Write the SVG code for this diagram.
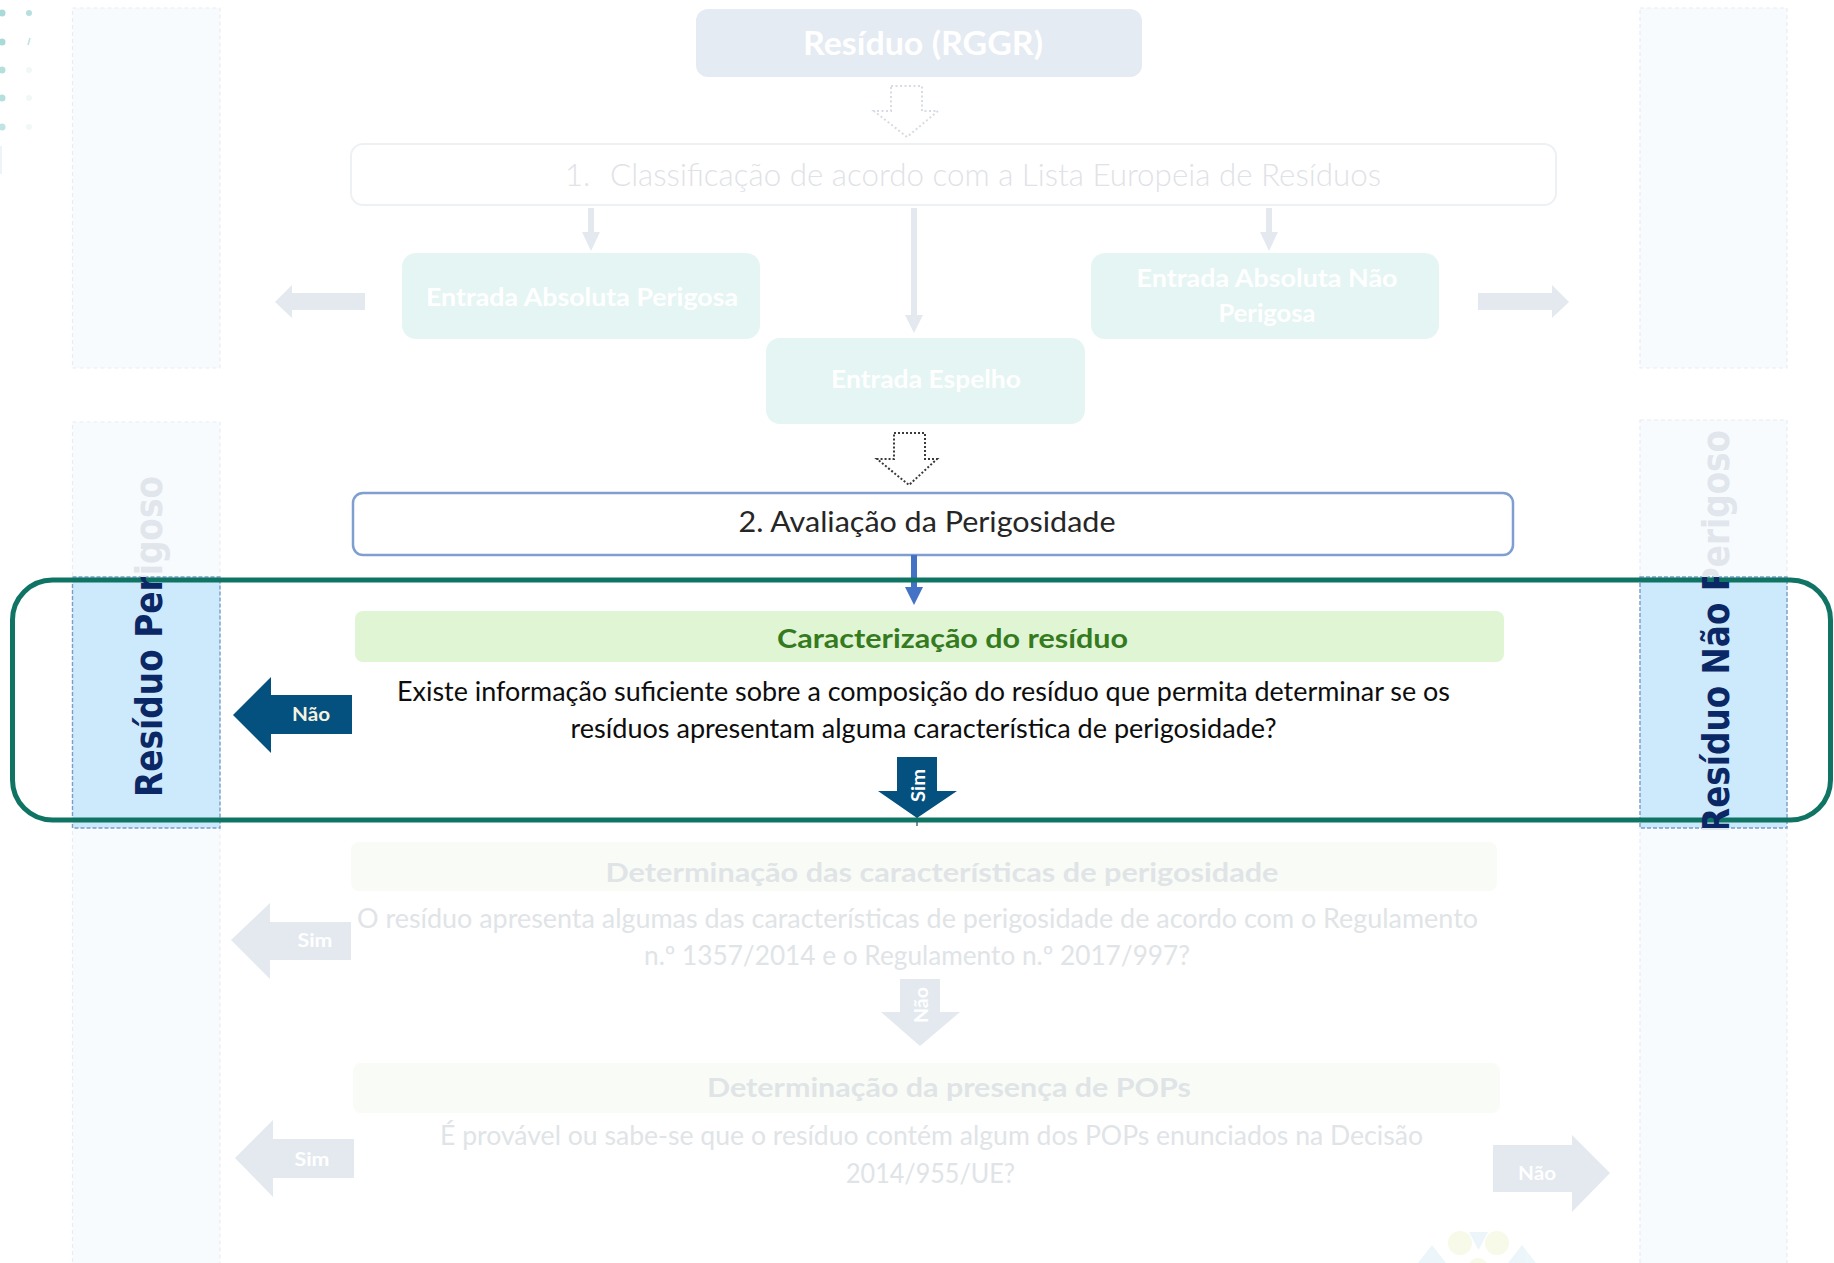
<svg xmlns="http://www.w3.org/2000/svg" width="1834" height="1263" viewBox="0 0 1834 1263">
  <style>
    .sans{font-family:Lato,"Liberation Sans",sans-serif}
    .bold{font-weight:700}
    .light{font-weight:300}
    .col-label{font-family:"DejaVu Sans",Verdana,sans-serif;font-weight:700;font-size:38px}
    .faded-box{fill:#e5f5f3}
    .faded-arrow{fill:#e3e9ef}
    .faded-text{fill:#e0e4e7}
    .dark-arrow{fill:#04507e}
    .col-faint{fill:#f8fbfe;stroke:#e7edf4;stroke-width:1.2;stroke-dasharray:4 3}
    .col-lit{fill:#cdeafd;stroke:#7b9dc7;stroke-width:1.4;stroke-dasharray:4 2}
  </style>
  <defs>
    <clipPath id="band">
      <rect x="0" y="577" width="1834" height="251"/>
    </clipPath>
  </defs>

  <rect width="1834" height="1263" fill="#ffffff"/>

  <!-- decorative dots, top-left corner -->
  <g id="corner-dots">
    <circle cx="2" cy="13" r="3.5" fill="#a9dad7"/>
    <circle cx="2" cy="42" r="3.5" fill="#a9dad7"/>
    <circle cx="2" cy="70" r="3.5" fill="#b4dfdc"/>
    <circle cx="2" cy="98" r="3.5" fill="#b4dfdc"/>
    <circle cx="2" cy="127" r="3.5" fill="#bfe4e1"/>
    <circle cx="29" cy="13" r="3" fill="#b7e0dd"/>
    <path d="M30 38 L28 45" stroke="#bfe4e1" stroke-width="1.6"/>
    <circle cx="29" cy="70" r="3" fill="#f1f8f8"/>
    <circle cx="29" cy="98" r="3" fill="#f1f8f8"/>
    <circle cx="29" cy="127" r="3" fill="#f1f8f8"/>
    <rect x="0" y="146" width="2" height="28" fill="#eef4f6"/>
  </g>

  <!-- left column: Resíduo Perigoso -->
  <g id="col-perigoso">
    <rect class="col-faint" x="72.5" y="8" width="147.5" height="360"/>
    <rect class="col-faint" x="72.5" y="422" width="147.5" height="850"/>
    <rect class="col-lit" x="72.5" y="577" width="147.5" height="251"/>
    <text class="col-label" fill="#e1e5ec" transform="translate(162,797) rotate(-90)" textLength="321" lengthAdjust="spacingAndGlyphs">Resíduo Perigoso</text>
  </g>

  <!-- right column: Resíduo Não Perigoso -->
  <g id="col-nao-perigoso">
    <rect class="col-faint" x="1640" y="8" width="147" height="360"/>
    <rect class="col-faint" x="1640" y="420" width="147" height="852"/>
    <rect class="col-lit" x="1640" y="577" width="147" height="251"/>
    <text class="col-label" fill="#e1e5ec" transform="translate(1729,833) rotate(-90)" textLength="403" lengthAdjust="spacingAndGlyphs">Resíduo Não Perigoso</text>
  </g>

  <!-- nodes -->
  <g id="node-rggr">
    <rect x="696" y="9" width="446" height="68" rx="12" fill="#e5ebf2"/>
    <text class="sans bold" x="923" y="55" font-size="33" fill="#ffffff" text-anchor="middle" textLength="240" lengthAdjust="spacingAndGlyphs">Resíduo (RGGR)</text>
  </g>

  <g id="node-classificacao">
    <rect x="351" y="144" width="1205" height="61" rx="12" fill="#ffffff" stroke="#eef1f4" stroke-width="2"/>
    <text class="sans light" x="565" y="186" font-size="31" fill="#dfe2e7">1.</text>
    <text class="sans light" x="610" y="186" font-size="31" fill="#dfe2e7" textLength="771" lengthAdjust="spacingAndGlyphs">Classificação de acordo com a Lista Europeia de Resíduos</text>
  </g>

  <g id="node-absoluta-perigosa">
    <rect class="faded-box" x="402" y="253" width="358" height="86" rx="14"/>
    <text class="sans bold" x="582" y="306" font-size="25" fill="#ffffff" text-anchor="middle" textLength="312" lengthAdjust="spacingAndGlyphs">Entrada Absoluta Perigosa</text>
  </g>

  <g id="node-absoluta-nao-perigosa">
    <rect class="faded-box" x="1091" y="253" width="348" height="86" rx="14"/>
    <text class="sans bold" x="1267" y="287" font-size="25" fill="#ffffff" text-anchor="middle" textLength="261" lengthAdjust="spacingAndGlyphs">Entrada Absoluta Não</text>
    <text class="sans bold" x="1267" y="322" font-size="25" fill="#ffffff" text-anchor="middle" textLength="97" lengthAdjust="spacingAndGlyphs">Perigosa</text>
  </g>

  <g id="node-espelho">
    <rect class="faded-box" x="766" y="338" width="319" height="86" rx="14"/>
    <text class="sans bold" x="926" y="388" font-size="25" fill="#ffffff" text-anchor="middle" textLength="190" lengthAdjust="spacingAndGlyphs">Entrada Espelho</text>
  </g>

  <g id="node-avaliacao">
    <rect x="353" y="493" width="1160" height="62" rx="10" fill="#ffffff" stroke="#7e9fd0" stroke-width="2.5"/>
    <text class="sans" x="927" y="532" font-size="29" fill="#262626" text-anchor="middle" textLength="377" lengthAdjust="spacingAndGlyphs">2. Avaliação da Perigosidade</text>
  </g>

  <g id="node-caracterizacao">
    <rect x="355" y="611" width="1149" height="51" rx="8" fill="#dff5d3"/>
    <text class="sans bold" x="952.5" y="648" font-size="27" fill="#357a1f" text-anchor="middle" textLength="351" lengthAdjust="spacingAndGlyphs">Caracterização do resíduo</text>
    <text class="sans" x="923.5" y="701" font-size="26" fill="#0d0d0d" text-anchor="middle" textLength="1053" lengthAdjust="spacingAndGlyphs">Existe informação suficiente sobre a composição do resíduo que permita determinar se os</text>
    <text class="sans" x="923.5" y="738" font-size="26" fill="#0d0d0d" text-anchor="middle" textLength="706" lengthAdjust="spacingAndGlyphs">resíduos apresentam alguma característica de perigosidade?</text>
  </g>

  <g id="node-caracteristicas">
    <rect x="351" y="842" width="1146" height="49" rx="8" fill="#f9fcf6"/>
    <text class="sans bold faded-text" x="942" y="882" font-size="27" text-anchor="middle" textLength="673" lengthAdjust="spacingAndGlyphs">Determinação das características de perigosidade</text>
    <text class="sans faded-text" x="917.5" y="928" font-size="26" text-anchor="middle" textLength="1121" lengthAdjust="spacingAndGlyphs">O resíduo apresenta algumas das características de perigosidade de acordo com o Regulamento</text>
    <text class="sans faded-text" x="917" y="965" font-size="26" text-anchor="middle" textLength="546" lengthAdjust="spacingAndGlyphs">n.º 1357/2014 e o Regulamento n.º 2017/997?</text>
  </g>

  <g id="node-pops">
    <rect x="353" y="1063" width="1147" height="50" rx="8" fill="#f9fcf6"/>
    <text class="sans bold faded-text" x="949" y="1097" font-size="27" text-anchor="middle" textLength="484" lengthAdjust="spacingAndGlyphs">Determinação da presença de POPs</text>
    <text class="sans faded-text" x="931.5" y="1145" font-size="26" text-anchor="middle" textLength="983" lengthAdjust="spacingAndGlyphs">É provável ou sabe-se que o resíduo contém algum dos POPs enunciados na Decisão</text>
    <text class="sans faded-text" x="930.5" y="1183" font-size="26" text-anchor="middle" textLength="169" lengthAdjust="spacingAndGlyphs">2014/955/UE?</text>
  </g>

  <!-- logo mark, bottom right -->
  <g id="logo" opacity="0.45">
    <circle cx="1460" cy="1243" r="12" fill="#eef3cf"/>
    <circle cx="1497" cy="1243" r="12" fill="#eef3cf"/>
    <polygon points="1469,1232 1488,1232 1478.5,1250" fill="#d6eaf5"/>
    <polygon points="1418,1263 1432,1245 1446,1263" fill="#d6eaf5"/>
    <polygon points="1508,1263 1522,1245 1536,1263" fill="#d6eaf5"/>
    <circle cx="1478" cy="1268" r="10" fill="#eef3cf"/>
  </g>

  <!-- connectors -->
  <g id="connectors">
    <!-- RGGR to classification, dotted block arrow -->
    <path d="M891 86 H922 V111 H938 L907 137 L874 111 H891 Z" fill="none" stroke="#d6dce4" stroke-width="2" stroke-dasharray="2 2.5"/>
    <!-- classification to the three entries -->
    <polygon class="faded-arrow" points="588,208 594,208 594,232 600,232 591,251 582,232 588,232"/>
    <polygon class="faded-arrow" points="911,208 917,208 917,315 923,315 914,333 905,315 911,315"/>
    <polygon class="faded-arrow" points="1266,208 1272,208 1272,232 1278,232 1269,251 1260,232 1266,232"/>
    <!-- side arrows from the absolute entries -->
    <polygon class="faded-arrow" points="275,302 292,285 292,293 365,293 365,310 292,310 292,318"/>
    <polygon class="faded-arrow" points="1478,293 1552,293 1552,285 1569,302 1552,318 1552,310 1478,310"/>
    <!-- Entrada Espelho to avaliação, dotted block arrow -->
    <path d="M894 433 H925 V459 H937 L909 485 L877 459 H894 Z" fill="none" stroke="#3a3a3a" stroke-width="2" stroke-dasharray="2 2"/>
    <!-- avaliação to caracterização -->
    <polygon points="911,555 917,555 917,587 923,587 914,605 905,587 911,587" fill="#4472c4"/>

    <!-- caracterização: Não to the left, Sim down -->
    <polygon class="dark-arrow" points="233,715 271,677 271,695 352,695 352,734 271,734 271,753"/>
    <text class="sans bold" x="311" y="721" font-size="19" fill="#f5f3e0" text-anchor="middle" textLength="38" lengthAdjust="spacingAndGlyphs">Não</text>
    <line x1="917" y1="815" x2="917" y2="826" stroke="#2a3f55" stroke-width="1.2"/>
    <polygon class="dark-arrow" points="897,757 937,757 937,791 957,791 917,818 878,791 897,791"/>
    <text class="sans bold" transform="translate(925,802) rotate(-90)" font-size="19" fill="#ffffff" textLength="33" lengthAdjust="spacingAndGlyphs">Sim</text>

    <!-- características: Sim to the left, Não down -->
    <polygon class="faded-arrow" points="231,940 270,903 270,922 351,922 351,960 270,960 270,979"/>
    <text class="sans bold" x="315" y="947" font-size="19" fill="#ffffff" text-anchor="middle" textLength="35" lengthAdjust="spacingAndGlyphs">Sim</text>
    <polygon class="faded-arrow" points="900,979 940,979 940,1012 960,1012 920,1046 881,1012 900,1012"/>
    <text class="sans bold" transform="translate(928,1023) rotate(-90)" font-size="19" fill="#ffffff" textLength="36" lengthAdjust="spacingAndGlyphs">Não</text>

    <!-- POPs: Sim to the left, Não to the right -->
    <polygon class="faded-arrow" points="235,1158 273,1120 273,1139 354,1139 354,1178 273,1178 273,1197"/>
    <text class="sans bold" x="312" y="1166" font-size="19" fill="#ffffff" text-anchor="middle" textLength="35" lengthAdjust="spacingAndGlyphs">Sim</text>
    <polygon class="faded-arrow" points="1493,1145 1572,1145 1572,1135 1610,1173 1572,1212 1572,1192 1493,1192"/>
    <text class="sans bold" x="1537" y="1180" font-size="19" fill="#ffffff" text-anchor="middle" textLength="38" lengthAdjust="spacingAndGlyphs">Não</text>
  </g>

  <!-- focus frame around the caracterização step -->
  <g id="focus-frame">
    <rect x="12.5" y="580" width="1818" height="240" rx="40" fill="none" stroke="#0f7464" stroke-width="5"/>
  </g>
  <!-- column labels inside the lit band, drawn above the frame line -->
  <g id="col-labels-lit" clip-path="url(#band)">
    <text class="col-label" fill="#0a2766" transform="translate(162,797) rotate(-90)" textLength="321" lengthAdjust="spacingAndGlyphs">Resíduo Perigoso</text>
    <text class="col-label" fill="#0a2766" transform="translate(1729,833) rotate(-90)" textLength="403" lengthAdjust="spacingAndGlyphs">Resíduo Não Perigoso</text>
  </g>
</svg>
